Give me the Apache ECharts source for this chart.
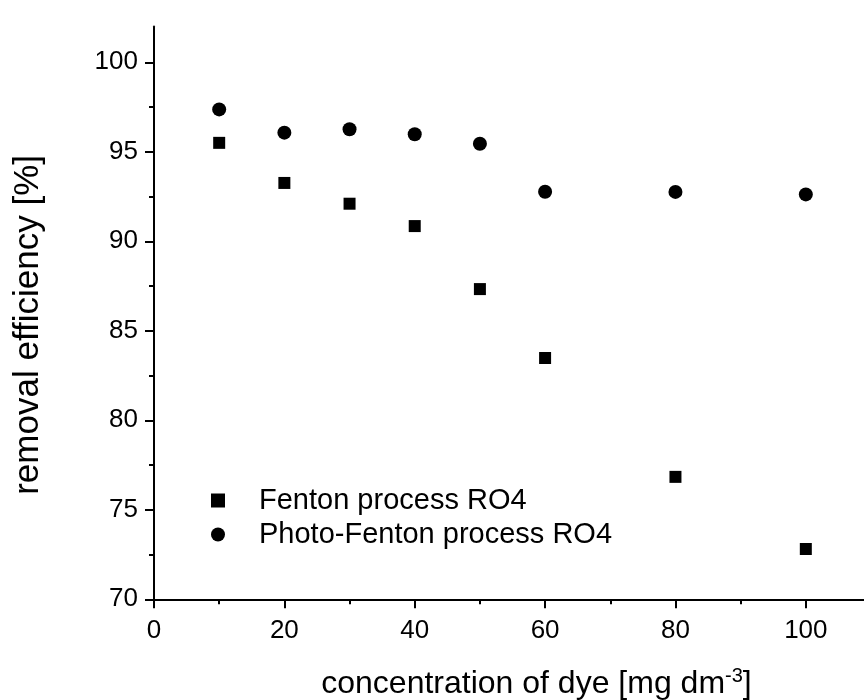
<!DOCTYPE html>
<html>
<head>
<meta charset="utf-8">
<script src="https://cdn.jsdelivr.net/npm/echarts@6/dist/echarts.min.js"></script>
<style>
  html, body { margin: 0; padding: 0; background: #fff; overflow: hidden; }
  #chart { width: 871px; height: 700px; }
</style>
</head>
<body>
<div id="chart"></div>
<script>
// Dye concentration [mg dm^-3]
const concentration = [10, 20, 30, 40, 50, 60, 80, 100];
// Removal efficiency [%]
const fentonRO4 = [95.5, 93.26, 92.1, 90.85, 87.33, 83.48, 76.84, 72.81];
const photoFentonRO4 = [97.37, 96.07, 96.26, 95.98, 95.45, 92.77, 92.76, 92.62];

const xMajorTicks = [0, 20, 40, 60, 80, 100];
const xMinorTicks = [10, 30, 50, 70, 90];
const yMajorTicks = [70, 75, 80, 85, 90, 95, 100];
const yMinorTicks = [72.5, 77.5, 82.5, 87.5, 92.5, 97.5];

const FONT = '"Liberation Sans", Arial, Helvetica, sans-serif';
const INK = '#000';

const chart = echarts.init(document.getElementById('chart'), null, { renderer: 'canvas' });

function pairs(xs, ys) { return xs.map((x, i) => [x, ys[i]]); }

const X_MIN = 0, X_MAX = 110, Y_MIN = 70, Y_MAX = 102;

chart.setOption({
  backgroundColor: '#fff',
  animation: false,
  grid: {
    left: 154, right: 0, top: 26.5, bottom: 100.7,
    containLabel: false, outerBoundsMode: 'none'
  },
  legend: {
    orient: 'vertical',
    left: 211,
    top: 486,
    padding: 0,
    itemWidth: 14,
    itemHeight: 14,
    itemGap: 5,
    itemStyle: { opacity: 1 },
    textStyle: { fontFamily: FONT, fontSize: 29, color: INK, padding: [0, 0, 0, 29] },
    data: ['Fenton process RO4', 'Photo-Fenton process RO4']
  },
  xAxis: [
    {
      type: 'value', min: X_MIN, max: X_MAX, interval: 20,
      name: 'concentration of dye [mg dm{sup|-3}]',
      nameLocation: 'middle', nameGap: 67,
      nameTextStyle: {
        fontFamily: FONT, fontSize: 32, color: INK, padding: [0, 0, 0, 48],
        rich: { sup: { fontFamily: FONT, fontSize: 20, color: INK, padding: [0, 0, 15, 0] } }
      },
      axisLine: { show: true, onZero: false, lineStyle: { color: INK, width: 2 } },
      axisTick: { show: true, length: 9, lineStyle: { color: INK, width: 2 }, customValues: xMajorTicks },
      axisLabel: { fontFamily: FONT, fontSize: 26, color: INK, margin: 19, customValues: xMajorTicks },
      splitLine: { show: false }
    },
    {
      type: 'value', min: X_MIN, max: X_MAX, interval: 10, position: 'bottom',
      axisLine: { show: false },
      axisTick: { show: true, length: 5, lineStyle: { color: INK, width: 2 }, customValues: xMinorTicks },
      axisLabel: { show: false },
      splitLine: { show: false }
    }
  ],
  yAxis: [
    {
      type: 'value', min: Y_MIN, max: Y_MAX, interval: 5,
      name: 'removal efficiency [%]',
      nameLocation: 'middle', nameGap: 108,
      nameTextStyle: { fontFamily: FONT, fontSize: 35, color: INK, padding: [0, 24, 0, 0] },
      axisLine: { show: true, onZero: false, lineStyle: { color: INK, width: 2 } },
      axisTick: { show: true, length: 9, lineStyle: { color: INK, width: 2 }, customValues: yMajorTicks },
      axisLabel: { fontFamily: FONT, fontSize: 26, color: INK, margin: 16, customValues: yMajorTicks },
      splitLine: { show: false }
    },
    {
      type: 'value', min: Y_MIN, max: Y_MAX, interval: 2.5, position: 'left',
      axisLine: { show: false },
      axisTick: { show: true, length: 5, lineStyle: { color: INK, width: 2 }, customValues: yMinorTicks },
      axisLabel: { show: false },
      splitLine: { show: false }
    }
  ],
  series: [
    {
      name: 'Fenton process RO4',
      type: 'scatter',
      symbol: 'rect',
      symbolSize: 12,
      itemStyle: { color: INK, opacity: 1 },
      data: pairs(concentration, fentonRO4)
    },
    {
      name: 'Photo-Fenton process RO4',
      type: 'scatter',
      symbol: 'circle',
      symbolSize: 14,
      itemStyle: { color: INK, opacity: 1 },
      data: pairs(concentration, photoFentonRO4)
    }
  ]
});
</script>
</body>
</html>
